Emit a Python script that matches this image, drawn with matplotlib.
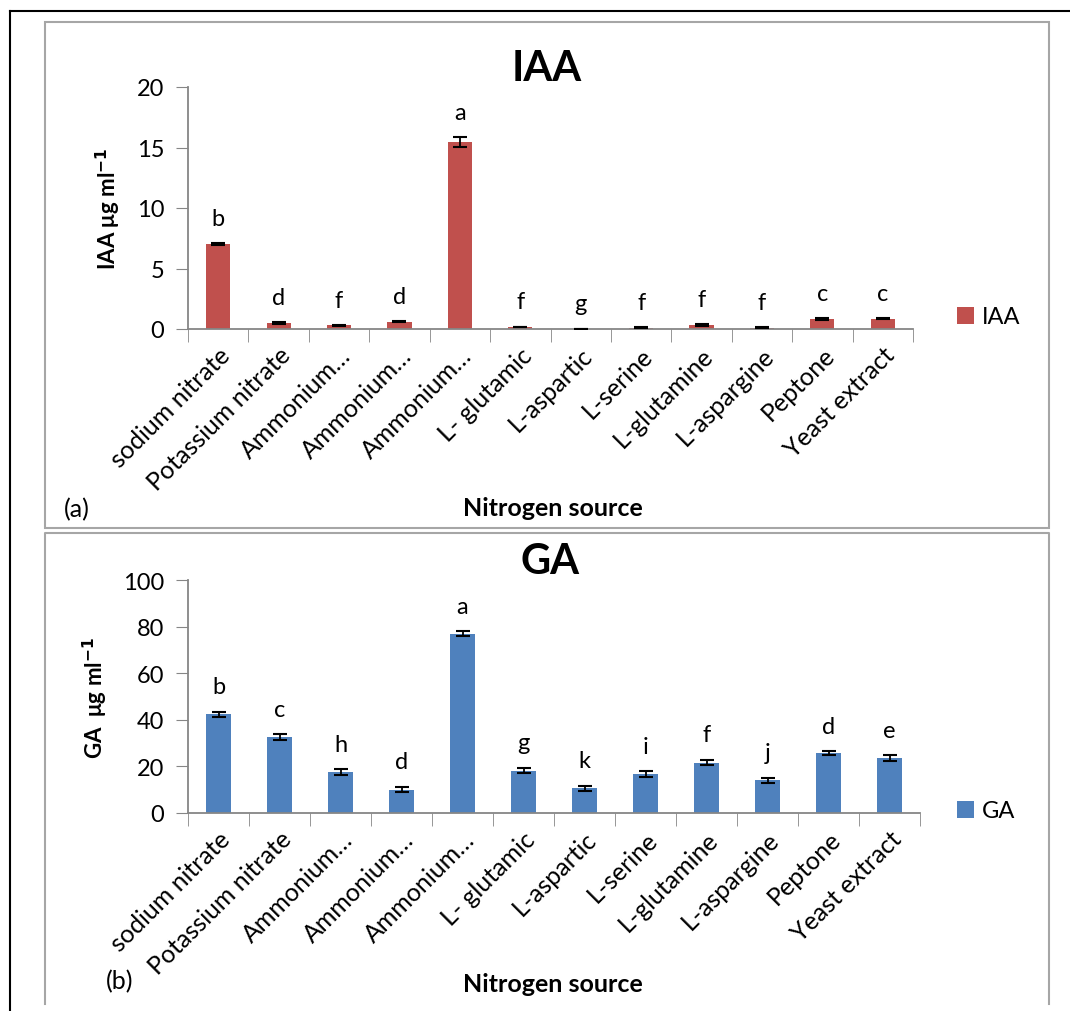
import matplotlib.pyplot as plt
from matplotlib.patches import Rectangle
from matplotlib.lines import Line2D
from matplotlib.transforms import ScaledTranslation

plt.rcParams['font.family'] = ['Lato', 'DejaVu Sans']

sources = ["sodium nitrate", "Potassium nitrate", "Ammonium…", "Ammonium…",
           "Ammonium…", "L- glutamic", "L-aspartic", "L-serine",
           "L-glutamine", "L-aspargine", "Peptone", "Yeast extract"]

iaa = [7.0, 0.5, 0.3, 0.58, 15.45, 0.15, 0.02, 0.12, 0.3, 0.12, 0.83, 0.83]
iaa_err = [0.08, 0.06, 0.03, 0.04, 0.4, 0.02, 0.0, 0.02, 0.08, 0.02, 0.06, 0.04]
iaa_groups = ["b", "d", "f", "d", "a", "f", "g", "f", "f", "f", "c", "c"]

ga = [42.3, 32.6, 17.5, 10.0, 77.0, 18.2, 10.6, 16.8, 21.6, 14.0, 25.7, 23.6]
ga_err = [1.2, 1.1, 1.2, 1.2, 1.0, 1.2, 1.2, 1.2, 1.2, 1.2, 0.8, 1.2]
ga_groups = ["b", "c", "h", "d", "a", "g", "k", "i", "f", "j", "d", "e"]

W, H = 1070, 1012
fig = plt.figure(figsize=(W / 100, H / 100), dpi=100)

def fx(px):
    return px / W

def fy(py):
    return 1 - py / H

axis_grey = "#868686"

# outer frame (top and left edges only) and the two grey panel boxes
fig.add_artist(Line2D([fx(10), 1], [fy(12), fy(12)], color="black", lw=1.5))
fig.add_artist(Line2D([fx(10), fx(10)], [fy(12), 0], color="black", lw=1.5))
fig.add_artist(Rectangle((fx(45), fy(529)), fx(1049) - fx(45), fy(23) - fy(529),
                         fill=False, ec="#a6a6a6", lw=1.5))
fig.add_artist(Line2D([fx(45), fx(45), fx(1049), fx(1049)],
                      [fy(1005), fy(534), fy(534), fy(1005)], color="#a6a6a6", lw=1.5))


def panel(box, values, errs, groups, color, ymax, ystep, title, ylabel,
          legend_y, tag, tag_xy, xlabel_y, ylabel_x):
    left, top, right, bottom = box
    ax = fig.add_axes([fx(left), fy(bottom), fx(right) - fx(left), fy(top) - fy(bottom)])
    x = list(range(len(values)))
    ax.bar(x, values, width=0.4, color=color, label=title, zorder=2)
    ax.errorbar(x, values, yerr=errs, fmt="none", ecolor="black",
                elinewidth=1.3, capsize=5, capthick=1.5, zorder=3)
    for xi, v, e, g in zip(x, values, errs, groups):
        ax.annotate(g, (xi, v + e), xytext=(0, 18), textcoords="offset points",
                    ha="center", va="center", fontsize=17)
    ax.set_xlim(-0.5, len(values) - 0.5)
    ax.set_ylim(0, ymax)
    ax.set_yticks(range(0, ymax + 1, ystep))
    ax.set_xticks(x)
    ax.set_xticklabels(sources, rotation=45, ha="right", rotation_mode="anchor",
                       fontsize=18)
    shift = ScaledTranslation(14 / 100, 0, fig.dpi_scale_trans)
    for lab in ax.get_xticklabels():
        lab.set_transform(lab.get_transform() + shift)
    ax.set_xticks([i - 0.5 for i in range(len(values) + 1)], minor=True)
    ax.tick_params(axis="x", which="major", length=0, pad=10)
    ax.tick_params(axis="x", which="minor", length=9, color=axis_grey)
    ax.tick_params(axis="y", length=9, color=axis_grey, labelsize=17, pad=8)
    for s in ["top", "right"]:
        ax.spines[s].set_visible(False)
    for s in ["left", "bottom"]:
        ax.spines[s].set_color(axis_grey)
        ax.spines[s].set_linewidth(1.3)
    ax.set_title(title, fontsize=30, fontweight="bold", pad=0)
    ax.title.set_position((0.495, 1.0))
    fig.text(fx(ylabel_x), fy((top + bottom) / 2), ylabel, rotation=90,
             fontsize=16, fontweight="bold", ha="center", va="center")
    fig.text(fx(553), fy(xlabel_y), "Nitrogen source", fontsize=18,
             fontweight="bold", ha="center", va="center")
    fig.text(fx(tag_xy[0]), fy(tag_xy[1]), tag, fontsize=18, ha="left", va="center")
    ax.legend(loc="center left", bbox_to_anchor=(fx(936), fy(legend_y)),
              bbox_transform=fig.transFigure, frameon=False, fontsize=17,
              handlelength=0.7, handleheight=0.7, handletextpad=0.35)
    return ax


panel((188, 88, 913, 330), iaa, iaa_err, iaa_groups, "#C0504D", 20, 5, "IAA",
      "IAA μg ml$^{\\mathbf{-1}}$", 318, "(a)", (64, 510), 509, 108)
panel((188, 581, 920, 814), ga, ga_err, ga_groups, "#4F81BD", 100, 20, "GA",
      "GA  μg ml$^{\\mathbf{-1}}$", 812, "(b)", (106, 982), 985, 95)

fig.savefig("out.png", dpi=100)
